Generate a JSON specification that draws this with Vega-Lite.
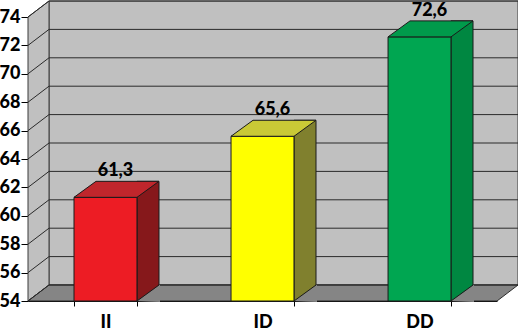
{
  "$schema": "https://vega.github.io/schema/vega-lite/v6.json",
  "width": 469,
  "height": 284,
  "autosize": "none",
  "padding": {"left": 28, "top": 17, "right": 21, "bottom": 30},
  "background": "white",
  "config": {
    "view": {"stroke": null},
    "font": "Lato",
    "locale": {"number": {"decimal": ",", "thousands": ".", "grouping": [3], "currency": ["", " €"]}},
    "axisY": {"labelFont": "Lato", "labelFontWeight": 900, "labelFontSize": 18, "labelColor": "#000", "tickCount": 10, "tickSize": 7, "tickColor": "#000", "domainColor": "#000", "labelPadding": 1, "grid": false, "zindex": 1, "title": null},
    "axisX": {"labelFont": "Lato", "labelFontWeight": 900, "labelFontSize": 18, "labelColor": "#000", "tickSize": 5, "tickColor": "#000", "domainColor": "#000", "labelPadding": 7, "grid": false, "zindex": 1, "title": null, "tickBand": "extent", "labelAngle": 0}
  },
  "resolve": {"scale": {"x": "independent"}},
  "layer": [
    {
      "data": {"values": [{"g": 54}, {"g": 56}, {"g": 58}, {"g": 60}, {"g": 62}, {"g": 64}, {"g": 66}, {"g": 68}, {"g": 70}, {"g": 72}, {"g": 74}]},
      "layer": [
        {
          "data": {"values": [{"wall": "back"}]},
          "mark": {"type": "rect", "fill": "#c0c0c0", "stroke": "#3a3a3a", "strokeWidth": 1, "xOffset": 21, "x2Offset": 21, "yOffset": -16, "y2Offset": -16},
          "encoding": {
            "x": {"datum": 0, "type": "quantitative", "scale": {"domain": [0, 1], "nice": false, "zero": false}, "axis": null},
            "x2": {"datum": 1},
            "y": {"datum": 54, "type": "quantitative", "scale": {"domain": [54, 74], "nice": false, "zero": false}},
            "y2": {"datum": 74}
          }
        },
        {
          "data": {"values": [{"wall": "side"}]},
          "mark": {"type": "point", "shape": "M0,0L0.21,-0.16L0.21,-3L0,-2.84Z", "size": 40000, "filled": true, "fill": "#c0c0c0", "stroke": "#3a3a3a", "strokeWidth": 1, "opacity": 1},
          "encoding": {
            "x": {"datum": 0, "type": "quantitative", "scale": {"domain": [0, 1], "nice": false, "zero": false}, "axis": null},
            "y": {"datum": 54, "type": "quantitative", "scale": {"domain": [54, 74], "nice": false, "zero": false}}
          }
        },
        {
          "data": {"values": [{"wall": "floor"}]},
          "mark": {"type": "point", "shape": "M0,0L4.69,0L4.9,-0.16L0.21,-0.16Z", "size": 40000, "filled": true, "fill": "#858585", "stroke": "#2a2a2a", "strokeWidth": 1, "opacity": 1},
          "encoding": {
            "x": {"datum": 0, "type": "quantitative", "scale": {"domain": [0, 1], "nice": false, "zero": false}, "axis": null},
            "y": {"datum": 54, "type": "quantitative", "scale": {"domain": [54, 74], "nice": false, "zero": false}}
          }
        },
        {
          "mark": {"type": "rule", "stroke": "#2a2a2a", "strokeWidth": 1, "xOffset": 21, "x2Offset": 21, "yOffset": -16},
          "encoding": {
            "x": {"datum": 0, "type": "quantitative", "scale": {"domain": [0, 1], "nice": false, "zero": false}, "axis": null},
            "x2": {"datum": 1},
            "y": {"field": "g", "type": "quantitative", "scale": {"domain": [54, 74], "nice": false, "zero": false}}
          }
        },
        {
          "mark": {"type": "rule", "stroke": "#2a2a2a", "strokeWidth": 1, "x2Offset": 21, "y2Offset": -16},
          "encoding": {
            "x": {"datum": 0, "type": "quantitative", "scale": {"domain": [0, 1], "nice": false, "zero": false}, "axis": null},
            "x2": {"datum": 0},
            "y": {"field": "g", "type": "quantitative", "scale": {"domain": [54, 74], "nice": false, "zero": false}},
            "y2": {"field": "g"}
          }
        }
      ]
    },
    {
      "data": {"values": [{"cat": "II", "v": 61.3}, {"cat": "ID", "v": 65.6}, {"cat": "DD", "v": 72.6}]},
      "resolve": {"scale": {"color": "independent"}},
      "encoding": {
        "x": {"field": "cat", "type": "nominal", "sort": null, "scale": {"type": "band", "domain": ["II", "ID", "DD"], "paddingInner": 0.599, "paddingOuter": 0.293}},
        "y": {"field": "v", "type": "quantitative", "scale": {"domain": [54, 74], "nice": false, "zero": false}}
      },
      "layer": [
        {
          "mark": {"type": "bar", "width": 22, "xOffset": 42.5, "yOffset": -16, "stroke": "#1a1a1a", "strokeWidth": 1},
          "encoding": {
            "y2": {"datum": 54},
            "color": {"field": "cat", "type": "nominal", "scale": {"domain": ["II", "ID", "DD"], "range": ["#86181b", "#80802e", "#008741"]}, "legend": null}
          }
        },
        {
          "mark": {"type": "point", "shape": "M0.315,0L0.545,-0.165L0.545,0.01Z", "size": 40000, "filled": true, "fill": "#858585", "strokeWidth": 0, "opacity": 1},
          "encoding": {"y": {"datum": 54, "type": "quantitative", "scale": {"domain": [54, 74], "nice": false, "zero": false}}}
        },
        {
          "mark": {"type": "point", "shape": "M0.315,0L0.535,-0.16", "size": 40000, "filled": false, "stroke": "#1a1a1a", "strokeWidth": 1, "opacity": 1},
          "encoding": {"y": {"datum": 54, "type": "quantitative", "scale": {"domain": [54, 74], "nice": false, "zero": false}}}
        },
        {
          "mark": {"type": "bar", "stroke": "#1a1a1a", "strokeWidth": 1},
          "encoding": {
            "y2": {"datum": 54},
            "color": {"field": "cat", "type": "nominal", "scale": {"domain": ["II", "ID", "DD"], "range": ["#ed1c24", "#ffff00", "#00a651"]}, "legend": null}
          }
        },
        {
          "mark": {"type": "point", "shape": "M-0.315,0L0.315,0L0.535,-0.16L-0.095,-0.16Z", "size": 40000, "filled": true, "stroke": "#1a1a1a", "strokeWidth": 1, "opacity": 1},
          "encoding": {
            "color": {"field": "cat", "type": "nominal", "scale": {"domain": ["II", "ID", "DD"], "range": ["#c0262c", "#c9c936", "#009a4b"]}, "legend": null}
          }
        },
        {
          "mark": {"type": "text", "font": "Lato", "fontWeight": 900, "fontSize": 18, "color": "#000", "dx": 10, "dy": -21, "baseline": "alphabetic", "align": "center"},
          "encoding": {
            "text": {"field": "v", "type": "quantitative", "format": ".1f"}
          }
        }
      ]
    }
  ]
}
